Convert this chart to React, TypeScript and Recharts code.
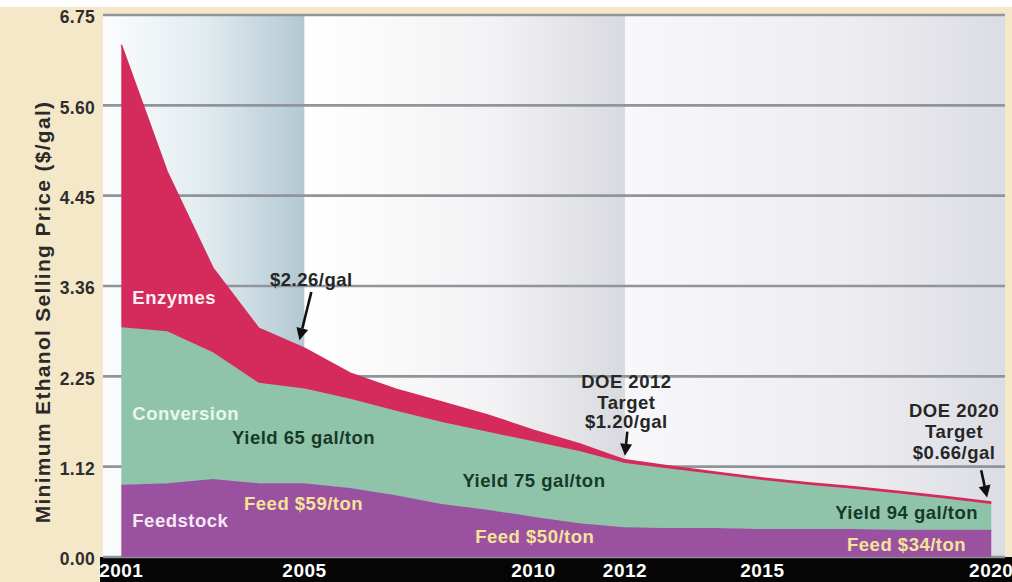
import React from "react";
import {
  ComposedChart,
  Area,
  XAxis,
  YAxis,
  CartesianGrid,
  ReferenceArea,
  ReferenceDot,
  ReferenceLine,
} from "recharts";

// ---- data ----
const years = [2001, 2002, 2003, 2004, 2005, 2006, 2007, 2008, 2009, 2010, 2011, 2012, 2013, 2014, 2015, 2016, 2017, 2018, 2019, 2020];
const feedstock = [0.9, 0.92, 0.97, 0.92, 0.92, 0.86, 0.77, 0.66, 0.59, 0.5, 0.42, 0.37, 0.36, 0.36, 0.35, 0.35, 0.35, 0.34, 0.34, 0.34];
const conversion = [1.96, 1.89, 1.58, 1.25, 1.18, 1.11, 1.05, 1.02, 0.97, 0.94, 0.9, 0.8, 0.74, 0.67, 0.61, 0.55, 0.5, 0.45, 0.39, 0.32];
const enzymes = [3.52, 1.99, 1.05, 0.68, 0.5, 0.32, 0.27, 0.25, 0.21, 0.14, 0.09, 0.04, 0.03, 0.025, 0.025, 0.025, 0.025, 0.025, 0.025, 0.025];

const yTicks = [0, 1.125, 2.25, 3.375, 4.5, 5.625, 6.75];
const yTickLabels = ["0.00", "1.12", "2.25", "3.36", "4.45", "5.60", "6.75"];
const xTicks = [2001, 2005, 2010, 2012, 2015, 2020];
const xDomain: [number, number] = [2000.6, 2020.3];
const eraBounds = [2000.6, 2005, 2012, 2020.3];

const seriesLabels = [
  { text: "Enzymes", x: 2001.24, y: 3.23, color: "#fbeef2" },
  { text: "Conversion", x: 2001.24, y: 1.79, color: "#e8f7ef" },
  { text: "Feedstock", x: 2001.24, y: 0.46, color: "#f6e9f6" },
  { text: "Yield 65 gal/ton", x: 2003.42, y: 1.49, color: "#163a28" },
  { text: "Feed $59/ton", x: 2003.68, y: 0.67, color: "#f6e39a" },
  { text: "Yield 75 gal/ton", x: 2008.45, y: 0.95, color: "#163a28" },
  { text: "Feed $50/ton", x: 2008.73, y: 0.26, color: "#f6e39a" },
  { text: "Yield 94 gal/ton", x: 2016.59, y: 0.55, color: "#163a28" },
  { text: "Feed $34/ton", x: 2016.85, y: 0.15, color: "#f6e39a" },
];

const calloutLines = [
  { text: "$2.26/gal", x: 2005.15, y: 3.45 },
  { text: "DOE 2012", x: 2012.03, y: 2.18 },
  { text: "Target", x: 2012.03, y: 1.93 },
  { text: "$1.20/gal", x: 2012.03, y: 1.69 },
  { text: "DOE 2020", x: 2019.19, y: 1.83 },
  { text: "Target", x: 2019.19, y: 1.56 },
  { text: "$0.66/gal", x: 2019.19, y: 1.3 },
];

const arrows = [
  { from: { x: 2005.15, y: 3.3 }, to: { x: 2004.89, y: 2.7 } },
  { from: { x: 2012.05, y: 1.56 }, to: { x: 2012.0, y: 1.26 } },
  { from: { x: 2019.78, y: 1.08 }, to: { x: 2019.91, y: 0.74 } },
];

const data = years.map((year, i) => ({
  year,
  feedstock: feedstock[i],
  conversion: conversion[i],
  enzymes: enzymes[i],
}));

const FONT = "'Liberation Sans', Arial, Helvetica, sans-serif";

const ArrowShape = (p: any) => {
  const { x1, y1, x2, y2 } = p;
  if ([x1, y1, x2, y2].some((v) => v == null || isNaN(v))) return null;
  const ang = Math.atan2(y2 - y1, x2 - x1);
  const L = 12;
  const W = 6;
  const bx = x2 - L * Math.cos(ang);
  const by = y2 - L * Math.sin(ang);
  const px = -Math.sin(ang) * W;
  const py = Math.cos(ang) * W;
  return (
    <g>
      <line x1={x1} y1={y1} x2={bx} y2={by} stroke="#111" strokeWidth={2.6} />
      <polygon points={`${x2},${y2} ${bx + px},${by + py} ${bx - px},${by - py}`} fill="#111" />
    </g>
  );
};

const makeText = (text: string, color: string, anchor: "start" | "middle") => (p: any) => (
  <text
    x={p.cx}
    y={p.cy}
    fill={color}
    textAnchor={anchor}
    dominantBaseline="central"
    fontFamily={FONT}
    fontWeight="bold"
    fontSize={18.5}
    letterSpacing={0.5}
  >
    {text}
  </text>
);

const XTick = (p: any) => (
  <text x={p.x} y={p.y} dy="0.71em" fill="#ffffff" textAnchor="middle" fontFamily={FONT} fontWeight="bold" fontSize={19} letterSpacing={0.5}>
    {p.payload.value}
  </text>
);

const YTick = (p: any) => {
  const idx = yTicks.indexOf(p.payload.value);
  return (
    <text x={p.x} y={p.y + 2} dy="0.355em" fill="#2e2e2e" textAnchor="end" fontFamily={FONT} fontWeight="bold" fontSize={17.5} letterSpacing={0.3}>
      {idx >= 0 ? yTickLabels[idx] : ""}
    </text>
  );
};

const YTitle = (p: any) => {
  const vb = p.viewBox || { x: 0, y: 15, width: 103, height: 542 };
  const cx = 42;
  const cy = vb.y + vb.height / 2 + 26;
  return (
    <text
      x={cx}
      y={cy}
      transform={`rotate(-90, ${cx}, ${cy})`}
      textAnchor="middle"
      dominantBaseline="central"
      fill="#2a2a2a"
      fontFamily={FONT}
      fontWeight="bold"
      fontSize={21}
      letterSpacing={1.3}
    >
      Minimum Ethanol Selling Price ($/gal)
    </text>
  );
};

export default function App() {
  return (
    <div style={{ position: "absolute", left: 0, top: 0, width: 1012, height: 582, background: "#ffffff", overflow: "hidden" }}>
      <div style={{ position: "absolute", left: 0, top: 7, width: 1012, height: 575, background: "#f4e8c8" }} />
      <div style={{ position: "absolute", left: 100, top: 557, width: 912, height: 25, background: "#050505" }} />
      <div style={{ position: "absolute", left: 0, top: 0 }}>
        <ComposedChart width={1012} height={582} data={data} margin={{ top: 15, right: 7, bottom: 0, left: 0 }}>
          <defs>
            <linearGradient id="era1" x1="0" y1="0" x2="1" y2="0">
              <stop offset="0%" stopColor="#fbfdfe" />
              <stop offset="50%" stopColor="#e2ecf0" />
              <stop offset="100%" stopColor="#b3c8d3" />
            </linearGradient>
            <linearGradient id="era2" x1="0" y1="0" x2="1" y2="0">
              <stop offset="0%" stopColor="#ffffff" />
              <stop offset="60%" stopColor="#f2f2f4" />
              <stop offset="100%" stopColor="#d9dae0" />
            </linearGradient>
            <linearGradient id="era3" x1="0" y1="0" x2="1" y2="0">
              <stop offset="0%" stopColor="#f8f8fa" />
              <stop offset="60%" stopColor="#ededf0" />
              <stop offset="100%" stopColor="#dcdde4" />
            </linearGradient>
          </defs>
          {eraBounds.slice(0, -1).map((b, i) => (
            <ReferenceArea
              key={`era${i}`}
              x1={b}
              x2={eraBounds[i + 1]}
              y1={0}
              y2={6.75}
              fill={`url(#era${i + 1})`}
              fillOpacity={1}
              stroke="none"
              ifOverflow="visible"
              {...({ zIndex: -200 } as any)}
            />
          ))}
          <CartesianGrid vertical={false} stroke="#8f959a" strokeWidth={2.6} {...({ zIndex: -100 } as any)} />
          <XAxis
            dataKey="year"
            type="number"
            domain={xDomain}
            ticks={xTicks}
            allowDataOverflow
            axisLine={false}
            tickLine={false}
            height={25}
            tickMargin={1}
            tick={<XTick />}
            interval={0}
          />
          <YAxis
            type="number"
            domain={[0, 6.75]}
            ticks={yTicks}
            width={103}
            axisLine={false}
            tickLine={false}
            interval={0}
            tick={<YTick />}
            label={<YTitle />}
          />
          <Area type="linear" dataKey="feedstock" stackId="s" stroke="#9a52a0" strokeWidth={1} fill="#9a52a0" fillOpacity={1} isAnimationActive={false} dot={false} activeDot={false} />
          <Area type="linear" dataKey="conversion" stackId="s" stroke="#8fc4ab" strokeWidth={1} fill="#8fc4ab" fillOpacity={1} isAnimationActive={false} dot={false} activeDot={false} />
          <Area type="linear" dataKey="enzymes" stackId="s" stroke="#d52a5c" strokeWidth={1.5} fill="#d52a5c" fillOpacity={1} isAnimationActive={false} dot={false} activeDot={false} />
          {seriesLabels.map((l, i) => (
            <ReferenceDot key={`sl${i}`} x={l.x} y={l.y} r={0} ifOverflow="visible" shape={makeText(l.text, l.color, "start")} />
          ))}
          {calloutLines.map((l, i) => (
            <ReferenceDot key={`cl${i}`} x={l.x} y={l.y} r={0} ifOverflow="visible" shape={makeText(l.text, "#262626", "middle")} />
          ))}
          {arrows.map((a, i) => (
            <ReferenceLine key={`ar${i}`} segment={[a.from, a.to]} ifOverflow="visible" shape={ArrowShape} />
          ))}
        </ComposedChart>
      </div>
    </div>
  );
}
